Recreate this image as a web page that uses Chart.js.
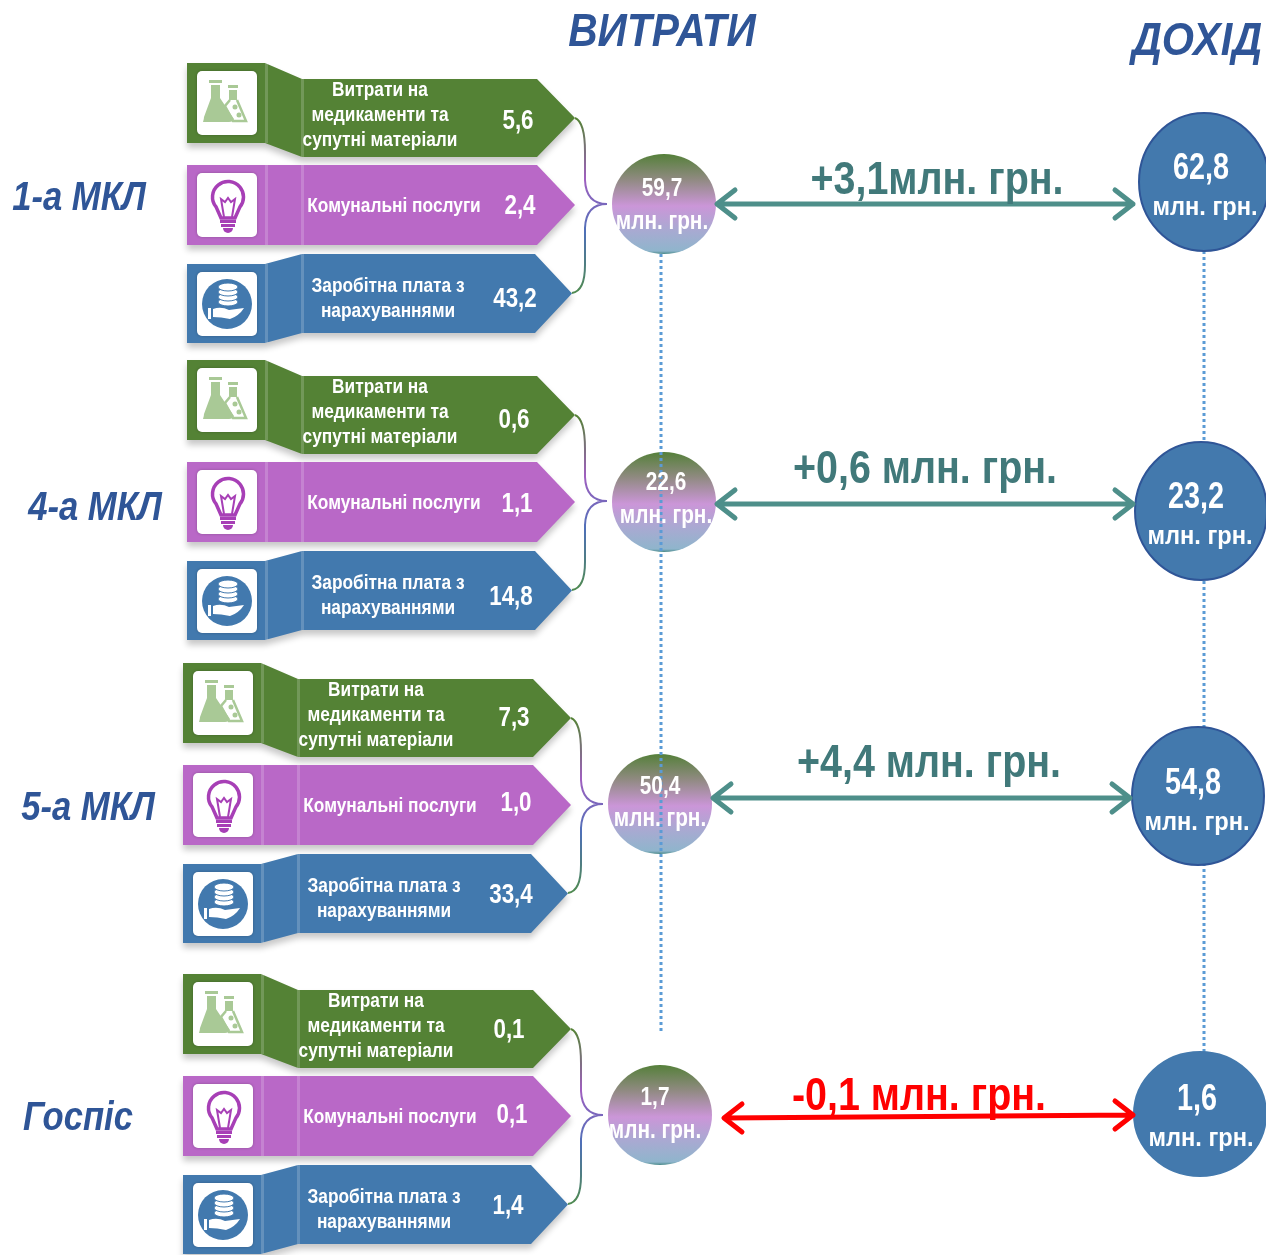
<!DOCTYPE html>
<html lang="uk">
<head>
<meta charset="utf-8">
<title>Витрати і дохід</title>
<style>
  html, body { margin: 0; background: #fff; }
  canvas { display: block; filter: blur(0.5px); }
</style>
<script src="https://cdn.jsdelivr.net/npm/chart.js@4"></script>
</head>
<body>
<canvas id="grafik" width="1266" height="1255"></canvas>
<script>
// Data (млн. грн.)
const groupNames = ['1-а МКЛ', '4-а МКЛ', '5-а МКЛ', 'Госпіс'];
const medicines = [5.6, 0.6, 7.3, 0.1];
const utilities = [2.4, 1.1, 1.0, 0.1];
const salaries = [43.2, 14.8, 33.4, 1.4];
const totalCost = [59.7, 22.6, 50.4, 1.7];
const income = [62.8, 23.2, 54.8, 1.6];
const balanceLabels = ['+3,1млн. грн.', '+0,6 млн. грн.', '+4,4 млн. грн.', '-0,1 млн. грн.'];
const rowLabels = [
  ['Витрати на', 'медикаменти та', 'супутні матеріали'],
  ['Комунальні послуги'],
  ['Заробітна плата з', 'нарахуваннями']
];
const unitLabel = 'млн. грн.';
const costTitle = 'ВИТРАТИ';
const incomeTitle = 'ДОХІД';

// Layout, in page pixels (the hidden axes run 0..1266 and 0..1255)
const groupDx = [0, 0, -4, -4];
const groupDy = [0, 297, 600, 911];
const rows = [
  { color: '#548235', blockTop: 63, blockBottom: 143, bodyTop: 79, bodyBottom: 157, neck: 537, tip: 575, iconY: 71, textX: 380, lineY: [90, 115, 140], icon: 'flask' },
  { color: '#b968c7', blockTop: 165, blockBottom: 245, bodyTop: 165, bodyBottom: 245, neck: 537, tip: 575, iconY: 173, textX: 394, lineY: [206], icon: 'bulb' },
  { color: '#4279ae', blockTop: 264, blockBottom: 343, bodyTop: 254, bodyBottom: 333, neck: 535, tip: 572, iconY: 272, textX: 388, lineY: [286, 311], icon: 'coins' }
];
const valuePos = [
  [[518, 121], [520, 206], [515, 299]],
  [[514, 420], [517, 504], [511, 597]],
  [[514, 718], [516, 803], [511, 895]],
  [[509, 1030], [512, 1115], [508, 1206]]
];
const groupLabelPos = [[79, 199], [95, 509], [88, 809], [78, 1119]];
const costCircles = [[664, 204, 52, 50], [664, 502, 52, 50], [660, 804, 52, 50], [660, 1115, 52, 50]];
const incomeCircles = [[1204, 182, 65, 69], [1201, 511, 66, 69], [1198, 796, 66, 69], [1200, 1114, 66, 62]];
const costText = [[662, 189, 222], [666, 483, 516], [660, 787, 819], [655, 1098, 1131]];
const incomeText = [[1201, 169, 208], [1196, 498, 537], [1193, 784, 823], [1197, 1100, 1139]];
const arrowSpans = [[717, 204, 1133, 204], [717, 504, 1133, 504], [713, 798, 1130, 798], [724, 1118, 1133, 1115]];
const balancePos = [[937, 181], [925, 470], [929, 764], [919, 1097]];
const balanceColors = ['#41797a', '#41797a', '#41797a', '#ff0000'];
const arrowColors = ['#4e8f8a', '#4e8f8a', '#4e8f8a', '#ff0000'];
const incomeStroke = ['#2f5597', '#2f5597', '#2f5597', '#4379ad'];
const costDots = [[661, 254], [661, 1032]];
const incomeDots = [[1204, 251], [1204, 1055]];
const SANS = '"Liberation Sans", sans-serif';

const comma = v => v.toFixed(1).replace('.', ',');
const toPoints = list => list.map(p => ({ x: p[0], y: p[1] }));

// Ellipse sprites used as point styles
function ellipseSprite(rx, ry, paint) {
  const c = document.createElement('canvas');
  c.width = rx * 2 + 4;
  c.height = ry * 2 + 4;
  const g = c.getContext('2d');
  g.beginPath();
  g.ellipse(rx + 2, ry + 2, rx, ry, 0, 0, Math.PI * 2);
  paint(g, ry);
  return c;
}
function paintCost(g, ry) {
  const grad = g.createLinearGradient(0, 2, 0, ry * 2 + 2);
  grad.addColorStop(0, '#55803a');
  grad.addColorStop(0.25, '#8f8a80');
  grad.addColorStop(0.52, '#cb96d8');
  grad.addColorStop(0.75, '#aaa9d2');
  grad.addColorStop(0.97, '#8fb5cc');
  grad.addColorStop(1, '#4a8a8a');
  g.fillStyle = grad;
  g.fill();
}
function paintIncome(stroke) {
  return g => {
    g.fillStyle = '#4379ad';
    g.fill();
    g.strokeStyle = stroke;
    g.lineWidth = 2;
    g.stroke();
  };
}

function arrowPath(s) {
  const [x1, y1, x2, y2] = s;
  return [
    [x1 + 18, y1 - 14], [x1, y1], [x1 + 18, y1 + 14], [x1, y1],
    [x2, y2], [x2 - 18, y2 - 14], [x2, y2], [x2 - 18, y2 + 14]
  ];
}

// The reference uses a narrow face, so regular Liberation Sans is squeezed
function label(ctx, text, x, y, font, color, squeeze) {
  ctx.save();
  ctx.font = font;
  ctx.fillStyle = color;
  ctx.textAlign = 'center';
  ctx.textBaseline = 'middle';
  ctx.translate(x, y);
  ctx.scale(squeeze || 0.8, 1);
  ctx.fillText(text, 0, 0);
  ctx.restore();
}

function roundBox(ctx, x, y, w, h, r) {
  ctx.beginPath();
  ctx.roundRect(x, y, w, h, r);
}

function drawFlask(ctx, x, y) {
  ctx.fillStyle = '#a9c996';
  ctx.fillRect(x + 12, y + 9, 13, 3);
  ctx.fillRect(x + 14, y + 14, 9, 14);
  ctx.beginPath();
  ctx.moveTo(x + 14, y + 27);
  ctx.lineTo(x + 23, y + 27);
  ctx.lineTo(x + 37, y + 48);
  ctx.quadraticCurveTo(x + 36, y + 51, x + 32, y + 51);
  ctx.lineTo(x + 6, y + 51);
  ctx.quadraticCurveTo(x + 7, y + 48, x + 7, y + 46);
  ctx.closePath();
  ctx.fill();
  ctx.fillRect(x + 31, y + 14, 10, 3);
  ctx.fillRect(x + 32, y + 19, 8, 10);
  ctx.strokeStyle = '#a9c996';
  ctx.lineWidth = 2.5;
  ctx.beginPath();
  ctx.moveTo(x + 33, y + 29);
  ctx.lineTo(x + 28, y + 35);
  ctx.lineTo(x + 36, y + 50);
  ctx.lineTo(x + 49, y + 50);
  ctx.lineTo(x + 40, y + 29);
  ctx.stroke();
  ctx.fillStyle = '#a9c996';
  ctx.beginPath();
  ctx.arc(x + 38, y + 36, 2.5, 0, Math.PI * 2);
  ctx.arc(x + 42, y + 44, 2.5, 0, Math.PI * 2);
  ctx.fill();
}

function drawBulb(ctx, x, y) {
  const cx = x + 31;
  ctx.strokeStyle = '#a73fb6';
  ctx.lineWidth = 3.5;
  ctx.beginPath();
  ctx.arc(cx, y + 24, 15.5, Math.PI * 0.78, Math.PI * 0.22);
  ctx.lineTo(cx + 7, y + 45);
  ctx.lineTo(cx - 7, y + 45);
  ctx.closePath();
  ctx.stroke();
  ctx.lineWidth = 2;
  ctx.beginPath();
  ctx.moveTo(cx - 4, y + 44);
  ctx.lineTo(cx - 7, y + 26);
  ctx.lineTo(cx - 3, y + 29);
  ctx.lineTo(cx, y + 25);
  ctx.lineTo(cx + 3, y + 29);
  ctx.lineTo(cx + 7, y + 26);
  ctx.lineTo(cx + 4, y + 44);
  ctx.stroke();
  ctx.fillStyle = '#a73fb6';
  ctx.fillRect(cx - 8, y + 47, 16, 3);
  ctx.fillRect(cx - 7, y + 51, 14, 3);
  ctx.beginPath();
  ctx.arc(cx, y + 55, 5, 0, Math.PI);
  ctx.fill();
}

function drawCoins(ctx, x, y) {
  const cx = x + 30;
  ctx.fillStyle = '#4279ae';
  ctx.beginPath();
  ctx.ellipse(cx, y + 32, 25, 25, 0, 0, Math.PI * 2);
  ctx.fill();
  ctx.fillStyle = '#fff';
  ctx.strokeStyle = '#4279ae';
  ctx.lineWidth = 1;
  for (let i = 0; i < 4; i++) {
    ctx.beginPath();
    ctx.ellipse(cx + 1, y + 30 - i * 5, 10, 4, 0, 0, Math.PI * 2);
    ctx.fill();
    ctx.stroke();
  }
  ctx.fillRect(x + 11, y + 36, 3, 11);
  ctx.beginPath();
  ctx.moveTo(x + 16, y + 37);
  ctx.quadraticCurveTo(x + 24, y + 34, x + 32, y + 38);
  ctx.lineTo(x + 47, y + 36);
  ctx.quadraticCurveTo(x + 42, y + 44, x + 33, y + 47);
  ctx.quadraticCurveTo(x + 24, y + 45, x + 16, y + 45);
  ctx.closePath();
  ctx.fill();
}

const icons = { flask: drawFlask, bulb: drawBulb, coins: drawCoins };

// Banners and bracket connectors go under the datasets
const bannerPlugin = {
  id: 'banners',
  beforeDatasetsDraw(chart) {
    const { ctx, scales } = chart;
    const X = v => scales.x.getPixelForValue(v);
    const Y = v => scales.y.getPixelForValue(v);
    groupNames.forEach((name, g) => {
      const dx = groupDx[g];
      const dy = groupDy[g];
      rows.forEach(r => {
        ctx.save();
        ctx.shadowColor = 'rgba(0,0,0,0.22)';
        ctx.shadowBlur = 6;
        ctx.shadowOffsetY = 5;
        ctx.fillStyle = r.color;
        ctx.beginPath();
        ctx.moveTo(X(187 + dx), Y(r.blockTop + dy));
        ctx.lineTo(X(265 + dx), Y(r.blockTop + dy));
        ctx.lineTo(X(302 + dx), Y(r.bodyTop + dy));
        ctx.lineTo(X(r.neck + dx), Y(r.bodyTop + dy));
        ctx.lineTo(X(r.tip + dx), Y((r.bodyTop + r.bodyBottom) / 2 + dy));
        ctx.lineTo(X(r.neck + dx), Y(r.bodyBottom + dy));
        ctx.lineTo(X(302 + dx), Y(r.bodyBottom + dy));
        ctx.lineTo(X(265 + dx), Y(r.blockBottom + dy));
        ctx.lineTo(X(187 + dx), Y(r.blockBottom + dy));
        ctx.closePath();
        ctx.fill();
        ctx.restore();

        // pale fold seams
        ctx.fillStyle = 'rgba(255,255,255,0.18)';
        ctx.fillRect(X(265 + dx), Y(r.blockTop + dy), 3, r.blockBottom - r.blockTop);
        ctx.fillRect(X(301 + dx), Y(r.bodyTop + dy), 3, r.bodyBottom - r.bodyTop);

        ctx.save();
        ctx.shadowColor = 'rgba(0,0,0,0.25)';
        ctx.shadowBlur = 3;
        ctx.fillStyle = '#fff';
        roundBox(ctx, X(197 + dx), Y(r.iconY + dy), 60, 64, 5);
        ctx.fill();
        ctx.restore();
        icons[r.icon](ctx, X(197 + dx), Y(r.iconY + dy));
      });

      // bracket from the two outer arrow tips to the cost circle
      const top = 118 + dy;
      const mid = 204 + dy;
      const bot = 293 + dy;
      const grad = ctx.createLinearGradient(0, Y(top), 0, Y(bot));
      grad.addColorStop(0, '#548235');
      grad.addColorStop(0.35, '#a05fc0');
      grad.addColorStop(0.65, '#4f70b8');
      grad.addColorStop(1, '#4f8a50');
      ctx.strokeStyle = grad;
      ctx.lineWidth = 2;
      ctx.beginPath();
      ctx.moveTo(X(575 + dx), Y(top));
      ctx.quadraticCurveTo(X(585 + dx), Y(top + 4), X(585 + dx), Y(top + 34));
      ctx.lineTo(X(585 + dx), Y(mid - 24));
      ctx.quadraticCurveTo(X(586 + dx), Y(mid), X(607 + dx), Y(mid));
      ctx.quadraticCurveTo(X(586 + dx), Y(mid), X(585 + dx), Y(mid + 24));
      ctx.lineTo(X(585 + dx), Y(bot - 28));
      ctx.quadraticCurveTo(X(585 + dx), Y(bot - 2), X(572 + dx), Y(bot));
      ctx.stroke();
    });
  },
  afterDatasetsDraw(chart) {
    const { ctx, scales } = chart;
    const X = v => scales.x.getPixelForValue(v);
    const Y = v => scales.y.getPixelForValue(v);
    const titleFont = `italic bold 46px ${SANS}`;
    label(ctx, costTitle, X(662), Y(33), titleFont, '#2f5597', 0.885);
    label(ctx, incomeTitle, X(1197), Y(42), titleFont, '#2f5597', 0.9);
    const values = [medicines, utilities, salaries];
    groupNames.forEach((name, g) => {
      label(ctx, name, X(groupLabelPos[g][0]), Y(groupLabelPos[g][1]), `italic bold 41px ${SANS}`, '#2f5597', 0.845);
      rows.forEach((r, i) => {
        rowLabels[i].forEach((line, n) => {
          label(ctx, line, X(r.textX + groupDx[g]), Y(r.lineY[n] + groupDy[g]), `bold 20px ${SANS}`, '#fff', 0.865);
        });
        label(ctx, comma(values[i][g]), X(valuePos[g][i][0]), Y(valuePos[g][i][1]), `bold 28px ${SANS}`, '#fff');
      });
      label(ctx, comma(totalCost[g]), X(costText[g][0]), Y(costText[g][1]), `bold 26px ${SANS}`, '#fff');
      label(ctx, unitLabel, X(costText[g][0]), Y(costText[g][2]), `bold 26px ${SANS}`, '#fff');
      label(ctx, comma(income[g]), X(incomeText[g][0]), Y(incomeText[g][1]), `bold 36px ${SANS}`, '#fff');
      label(ctx, unitLabel, X(incomeText[g][0] + 4), Y(incomeText[g][2]), `bold 26px ${SANS}`, '#fff', 0.91);
      label(ctx, balanceLabels[g], X(balancePos[g][0]), Y(balancePos[g][1]), `bold 46px ${SANS}`, balanceColors[g], 0.857);
    });
  }
};

const ctxGrafik = document.getElementById('grafik').getContext('2d');
const arrowDatasets = arrowSpans.map((s, i) => ({
  label: 'різниця ' + groupNames[i],
  data: toPoints(arrowPath(s)),
  showLine: true,
  borderColor: arrowColors[i],
  borderWidth: 5,
  borderCapStyle: 'round',
  borderJoinStyle: 'round',
  pointRadius: 0,
  order: 1
}));

new Chart(ctxGrafik, {
  type: 'scatter',
  data: {
    datasets: [
      {
        label: 'дохід, лінія',
        data: toPoints(incomeDots),
        showLine: true,
        borderColor: '#5b9bd5',
        borderWidth: 3,
        borderDash: [3, 3],
        pointRadius: 0,
        order: 5
      },
      {
        label: 'дохід',
        data: toPoints(incomeCircles),
        pointStyle: incomeCircles.map((c, i) => ellipseSprite(c[2], c[3], paintIncome(incomeStroke[i]))),
        pointRadius: 70,
        clip: false,
        order: 4
      },
      {
        label: 'витрати',
        data: toPoints(costCircles),
        pointStyle: costCircles.map(c => ellipseSprite(c[2], c[3], paintCost)),
        pointRadius: 52,
        clip: false,
        order: 3
      },
      {
        label: 'витрати, лінія',
        data: toPoints(costDots),
        showLine: true,
        borderColor: '#5b9bd5',
        borderWidth: 3,
        borderDash: [3, 3],
        pointRadius: 0,
        order: 2
      },
      ...arrowDatasets
    ]
  },
  options: {
    responsive: false,
    animation: false,
    layout: { padding: 0, autoPadding: false },
    scales: {
      x: { type: 'linear', min: 0, max: 1266, display: false },
      y: { type: 'linear', min: 0, max: 1255, reverse: true, display: false }
    },
    plugins: {
      legend: { display: false },
      tooltip: { enabled: false }
    }
  },
  plugins: [bannerPlugin]
});
</script>
</body>
</html>
